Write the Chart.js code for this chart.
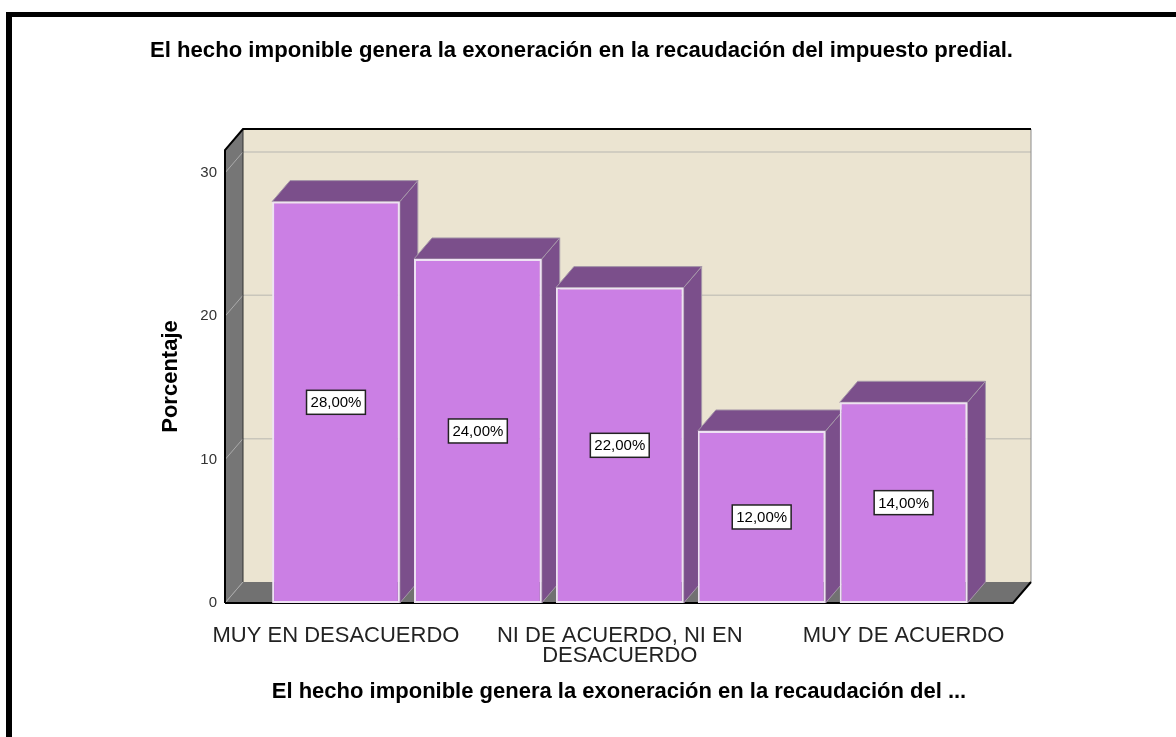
<!DOCTYPE html>
<html>
<head>
<meta charset="utf-8">
<title>Hecho imponible</title>
<script src="https://cdn.jsdelivr.net/npm/chart.js@4/dist/chart.umd.min.js"></script>
<style>
  body { margin: 0; background: #fff; }
  canvas { display: block; }
</style>
</head>
<body>
<canvas id="grafico" width="1176" height="737"></canvas>
<script>
const categorias = ['MUY EN DESACUERDO', 'EN DESACUERDO', 'NI DE ACUERDO, NI EN DESACUERDO', 'DE ACUERDO', 'MUY DE ACUERDO']
const porcentajes = [28, 24, 22, 12, 14]
const ticksY = [0, 10, 20, 30]
const ticksX = [0, 2, 4]   // SPSS solo imprime una etiqueta de cada dos

const titulo = 'El hecho imponible genera la exoneración en la recaudación del impuesto predial.'
const tituloX = 'El hecho imponible genera la exoneración en la recaudación del ...'
const tituloY = 'Porcentaje'

const fondo = '#ebe4d1', pared = '#767676', suelo = '#717171'
const frente = '#cb7fe4', lado = '#7b4f8b'
const prof = { x: 18, y: 21 }

Chart.defaults.font.family = "'Liberation Sans', Arial, sans-serif"

function partir(txt, max) {
      let lineas = [], actual = ''
      txt.split(' ').forEach(p => {
            if (actual && (actual + ' ' + p).length > max) { lineas.push(actual); actual = p }
            else actual = actual ? actual + ' ' + p : p
      })
      lineas.push(actual)
      return lineas.length > 1 ? lineas : lineas[0]
}

function poligono(ctx, pts, relleno) {
      ctx.beginPath()
      pts.forEach((p, i) => i ? ctx.lineTo(p[0], p[1]) : ctx.moveTo(p[0], p[1]))
      ctx.closePath()
      ctx.fillStyle = relleno
      ctx.fill()
}

function linea(ctx, x1, y1, x2, y2, color, ancho) {
      ctx.beginPath()
      ctx.moveTo(x1, y1)
      ctx.lineTo(x2, y2)
      ctx.strokeStyle = color
      ctx.lineWidth = ancho
      ctx.stroke()
}

const decorado = {
      id: 'decorado',
      beforeDraw(chart) {
            const ctx = chart.ctx
            ctx.save()
            ctx.fillStyle = '#fff'
            ctx.fillRect(0, 0, chart.width, chart.height)
            ctx.fillStyle = '#000'
            ctx.fillRect(6, 12, chart.width, 5)
            ctx.fillRect(6, 12, 6, chart.height)
            ctx.restore()
      },
      beforeDatasetsDraw(chart) {
            const { ctx, chartArea: a, scales: { y } } = chart
            const dx = prof.x, dy = prof.y
            ctx.save()
            // paredes y suelo
            poligono(ctx, [[a.left + dx, a.top - dy], [a.right + dx, a.top - dy], [a.right + dx, a.bottom - dy], [a.left + dx, a.bottom - dy]], fondo)
            poligono(ctx, [[a.left, a.bottom], [a.left, a.top], [a.left + dx, a.top - dy], [a.left + dx, a.bottom - dy]], pared)
            poligono(ctx, [[a.left, a.bottom], [a.right, a.bottom], [a.right + dx, a.bottom - dy], [a.left + dx, a.bottom - dy]], suelo)
            ticksY.slice(1).forEach(v => {
                  const py = y.getPixelForValue(v)
                  linea(ctx, a.left + dx, py - dy, a.right + dx, py - dy, '#c9c6bb', 1.5)
                  linea(ctx, a.left, py, a.left + dx, py - dy, '#ababab', 1)
            })
            linea(ctx, a.left, a.bottom, a.left + dx, a.bottom - dy, '#ababab', 1)
            linea(ctx, a.left + dx, a.top - dy, a.left + dx, a.bottom - dy, '#333', 1)
            linea(ctx, a.right + dx, a.top - dy, a.right + dx, a.bottom - dy, '#8c8c8c', 1)
            // contorno negro
            ctx.beginPath()
            ctx.moveTo(a.left, a.bottom)
            ctx.lineTo(a.left, a.top)
            ctx.lineTo(a.left + dx, a.top - dy)
            ctx.lineTo(a.right + dx, a.top - dy)
            ctx.strokeStyle = '#000'
            ctx.lineWidth = 2
            ctx.stroke()
            ctx.beginPath()
            ctx.moveTo(a.left, a.bottom)
            ctx.lineTo(a.right, a.bottom)
            ctx.lineTo(a.right + dx, a.bottom - dy)
            ctx.stroke()
            // caras laterales y superiores de las barras
            chart.getDatasetMeta(0).data.forEach(b => {
                  const l = b.x - b.width / 2, r = b.x + b.width / 2
                  const lat = [[r, b.y], [r + dx, b.y - dy], [r + dx, b.base - dy], [r, b.base]]
                  const sup = [[l, b.y], [l + dx, b.y - dy], [r + dx, b.y - dy], [r, b.y]]
                  ;[lat, sup].forEach(p => {
                        poligono(ctx, p, lado)
                        ctx.strokeStyle = '#a596a9'
                        ctx.lineWidth = 1
                        ctx.stroke()
                  })
            })
            ctx.restore()
      },
      afterDatasetsDraw(chart) {
            const ctx = chart.ctx
            ctx.save()
            ctx.font = "15px 'Liberation Sans', Arial, sans-serif"
            ctx.textAlign = 'center'
            ctx.textBaseline = 'middle'
            chart.getDatasetMeta(0).data.forEach((b, i) => {
                  const txt = porcentajes[i].toFixed(2).replace('.', ',') + '%'
                  const w = ctx.measureText(txt).width + 8, h = 24
                  const cy = (b.y + b.base) / 2
                  ctx.fillStyle = '#fff'
                  ctx.fillRect(b.x - w / 2, cy - h / 2, w, h)
                  ctx.strokeStyle = '#222'
                  ctx.lineWidth = 1.5
                  ctx.strokeRect(b.x - w / 2, cy - h / 2, w, h)
                  ctx.fillStyle = '#000'
                  ctx.fillText(txt, b.x, cy + 1)
            })
            ctx.restore()
      }
}

new Chart(document.getElementById('grafico'), {
      type: 'bar',
      data: {
            datasets: [{
                  label: 'Porcentaje',
                  data: porcentajes.map((v, i) => ({ x: i, y: v })),
                  backgroundColor: frente,
                  borderColor: '#eee2f3',
                  borderWidth: 2,
                  borderSkipped: false,
                  categoryPercentage: 1,
                  barPercentage: 0.9
            }]
      },
      options: {
            responsive: false,
            animation: false,
            layout: { padding: { top: 30, left: 150, right: 163, bottom: 20 } },
            plugins: {
                  legend: { display: false },
                  tooltip: { enabled: false },
                  title: {
                        display: true, text: titulo, color: '#000',
                        font: { size: 22.5, weight: 'bold' },
                        padding: { top: 7, bottom: 86 }
                  }
            },
            scales: {
                  x: {
                        type: 'linear', min: -0.782, max: 4.771, offset: false,
                        afterBuildTicks: s => { s.ticks = ticksX.map(v => ({ value: v })) },
                        afterFit: s => { s.height = 114 },
                        grid: { display: false },
                        border: { display: false },
                        ticks: {
                              callback: v => partir(categorias[v], 20),
                              padding: 15, color: '#222', maxRotation: 0, autoSkip: false,
                              font: { size: 22, lineHeight: 0.91 }
                        },
                        title: {
                              display: true, text: tituloX, color: '#000',
                              font: { size: 22, weight: 'bold' },
                              padding: { top: 0, bottom: 12 }
                        }
                  },
                  y: {
                        min: 0, max: 31.6,
                        afterBuildTicks: s => { s.ticks = ticksY.map(v => ({ value: v })) },
                        afterFit: s => { s.width = 75 },
                        grid: { display: false },
                        border: { display: false },
                        ticks: { padding: 0, color: '#333', font: { size: 15 } },
                        title: {
                              display: true, text: tituloY, color: '#000',
                              font: { size: 22, weight: 'bold' },
                              padding: { top: 8, bottom: 0 }
                        }
                  }
            }
      },
      plugins: [decorado]
})
</script>
</body>
</html>
